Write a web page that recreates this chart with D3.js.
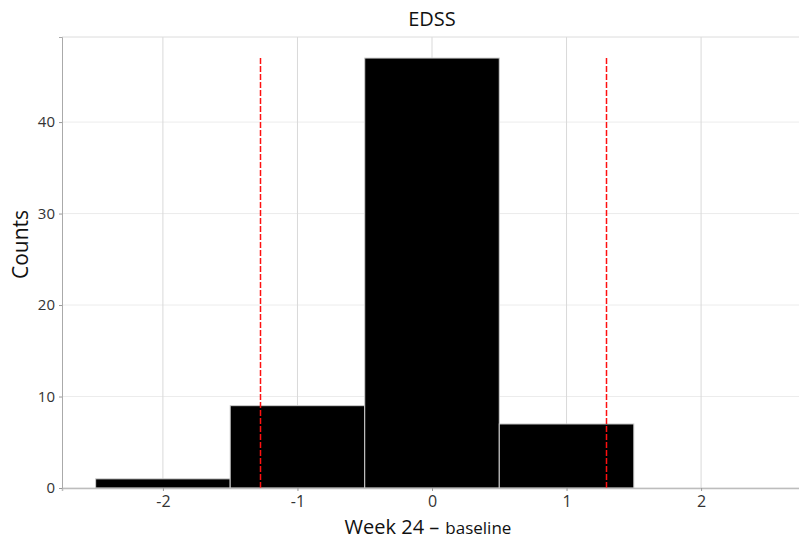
<!DOCTYPE html>
<html>
<head>
<meta charset="utf-8">
<script src="https://cdn.jsdelivr.net/npm/d3@7"></script>
<style>
  body { margin: 0; background: #fff; }
</style>
</head>
<body>
<script>
// histogram of EDSS change, bins of width 1 centred on integers
var binCenters = [-2, -1, 0, 1];
var binCounts = [1, 9, 47, 7];
var xTicks = [-2, -1, 0, 1, 2];
var yTicks = [0, 10, 20, 30, 40];
var cutoffs = [-1.28, 1.29];

var margin = {top: 37, right: -3, bottom: 52, left: 62},
  width = 799 - margin.left - margin.right,
  height = 540 - margin.top - margin.bottom;

var x = d3.scaleLinear().domain([-2.75, 2.75]).range([0, width]);
var y = d3.scaleLinear().domain([0, 49.3]).range([height, 0]);

var svg = d3.select("body").append("svg")
  .attr("width", 799)
  .attr("height", 540)
  .append("g")
  .attr("transform", "translate(" + margin.left + "," + margin.top + ")");

// grid
svg.selectAll(".hgrid")
  .data(yTicks)
  .enter().append("line")
  .attr("x1", 0).attr("x2", width)
  .attr("y1", function (d) { return y(d); })
  .attr("y2", function (d) { return y(d); })
  .style("stroke", "#ececec");

svg.selectAll(".vgrid")
  .data(xTicks)
  .enter().append("line")
  .attr("y1", 0).attr("y2", height)
  .attr("x1", function (d) { return x(d); })
  .attr("x2", function (d) { return x(d); })
  .style("stroke", "#d9d9d9");

// top border
svg.append("line")
  .attr("x1", 0).attr("x2", width).attr("y1", 0).attr("y2", 0)
  .style("stroke", "#dcdcdc");

// bars
svg.selectAll("rect")
  .data(binCenters)
  .enter().append("rect")
  .style("fill", "black")
  .style("stroke", "#cfcfcf")
  .style("stroke-width", 1)
  .attr("x", function (d) { return x(d - 0.5); })
  .attr("y", function (d, i) { return y(binCounts[i]); })
  .attr("width", function (d) { return x(d + 0.5) - x(d - 0.5); })
  .attr("height", function (d, i) { return height - y(binCounts[i]); });

// cutoff lines
svg.selectAll(".cut")
  .data(cutoffs)
  .enter().append("line")
  .attr("x1", function (d) { return Math.round(x(d)) + 0.5; })
  .attr("x2", function (d) { return Math.round(x(d)) + 0.5; })
  .attr("y1", y(d3.max(binCounts)))
  .attr("y2", height)
  .style("stroke", "#ff1010")
  .style("stroke-width", 1.5)
  .style("stroke-dasharray", "6,2");

// axes
var xAxis = d3.axisBottom(x).tickValues(xTicks).tickSize(3).tickPadding(5)
  .tickFormat(function (d) { return String(d); });
var yAxis = d3.axisLeft(y).tickValues(yTicks).tickSize(3).tickPadding(4)
  .tickFormat(function (d) { return String(d); });

var gx = svg.append("g")
  .attr("transform", "translate(0," + height + ")")
  .call(xAxis);
gx.select(".domain").style("stroke", "#bdbdbd").style("stroke-width", 1.5);
gx.selectAll(".tick line").style("stroke", "#999");
gx.selectAll("text")
  .style("font-family", "'Open Sans', sans-serif")
  .style("font-size", "16px")
  .style("fill", "#333");

var gy = svg.append("g").call(yAxis);
gy.select(".domain").style("stroke", "#aaa");
gy.selectAll(".tick line").style("stroke", "#999");
gy.selectAll("text")
  .style("font-family", "'Open Sans', sans-serif")
  .style("font-size", "15px")
  .style("fill", "#333");

// title and labels
svg.append("text")
  .attr("x", x(0))
  .attr("y", -11)
  .attr("text-anchor", "middle")
  .style("font-family", "'Open Sans', sans-serif")
  .style("font-size", "20px")
  .style("fill", "#111")
  .text("EDSS");

var xl1 = svg.append("text")
  .attr("y", height + 46)
  .style("font-family", "'Open Sans', sans-serif")
  .style("font-size", "20px")
  .style("fill", "#111")
  .text("Week 24 \u2013");
var xl2 = svg.append("text")
  .attr("y", height + 46)
  .style("font-family", "'Open Sans', sans-serif")
  .style("font-size", "17px")
  .style("fill", "#111")
  .text("baseline");
var w1 = xl1.node().getComputedTextLength(),
  w2 = xl2.node().getComputedTextLength(),
  gap = 6,
  start = x(0) - 4 - (w1 + gap + w2) / 2;
xl1.attr("x", start);
xl2.attr("x", start + w1 + gap);

svg.append("text")
  .attr("transform", "translate(" + (-34) + "," + (height / 2 - 18) + ") rotate(-90)")
  .attr("text-anchor", "middle")
  .style("font-family", "'Open Sans', sans-serif")
  .style("font-size", "21px")
  .style("fill", "#111")
  .text("Counts");
</script>
</body>
</html>
